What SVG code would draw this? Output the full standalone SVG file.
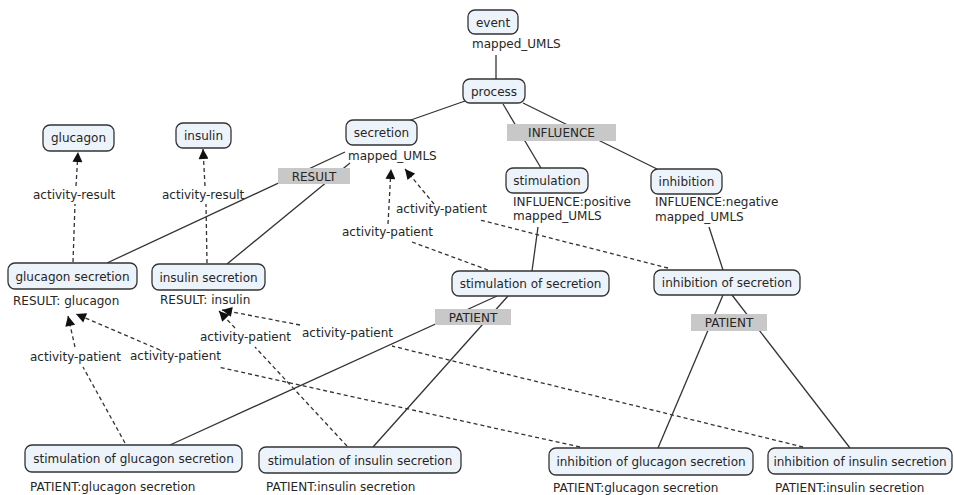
<svg xmlns="http://www.w3.org/2000/svg" width="954" height="495" viewBox="0 0 954 495">
  <style>
    text { font-family: "DejaVu Sans", Verdana, sans-serif; font-size: 12px; fill: #262626; }
    .node rect { fill: #edf3fa; stroke: #333; stroke-width: 1.3; }
    .node text { text-anchor: middle; }
    .phrase rect { fill: #c8c8c8; stroke: none; }
    .phrase text { text-anchor: middle; }
    .solid { stroke: #333; stroke-width: 1.3; fill: none; }
    .dash { stroke: #333; stroke-width: 1.3; fill: none; stroke-dasharray: 4 3; }
    .arrow { marker-end: url(#tri); }
  </style>
  <defs>
    <marker id="tri" viewBox="0 0 10 10" refX="10" refY="5" markerWidth="11" markerHeight="10" markerUnits="userSpaceOnUse" orient="auto">
      <path d="M0,0 L10,5 L0,10 z" fill="#111"/>
    </marker>
  </defs>
  <rect width="954" height="495" fill="#fff"/>

  <!-- connectors -->
  <g id="connectors">
    <!-- solid links -->
    <line class="solid" x1="496" y1="55" x2="496" y2="79"/>
    <line class="solid" x1="465" y1="101" x2="408" y2="121"/>
    <line class="solid" x1="503" y1="104" x2="541" y2="168"/>
    <line class="solid" x1="523" y1="103" x2="657" y2="169"/>
    <line class="solid" x1="345" y1="152" x2="107" y2="263"/>
    <line class="solid" x1="350" y1="163" x2="227" y2="264"/>
    <line class="solid" x1="538" y1="227" x2="532" y2="271"/>
    <line class="solid" x1="709" y1="227" x2="723" y2="270"/>
    <line class="solid" x1="497" y1="296" x2="170" y2="445"/>
    <line class="solid" x1="508" y1="296" x2="373" y2="447"/>
    <line class="solid" x1="723" y1="295" x2="658" y2="448"/>
    <line class="solid" x1="732" y1="295" x2="850" y2="448"/>

    <!-- activity-result -->
    <line class="dash" x1="73" y1="262" x2="75" y2="204"/>
    <line class="dash arrow" x1="76" y1="186" x2="78" y2="152"/>
    <line class="dash" x1="207" y1="263" x2="206" y2="204"/>
    <line class="dash arrow" x1="205" y1="186" x2="203" y2="149"/>

    <!-- activity-patient to secretion -->
    <line class="dash" x1="488" y1="270" x2="412" y2="242"/>
    <line class="dash arrow" x1="388" y1="224" x2="391" y2="169"/>
    <line class="dash" x1="668" y1="268" x2="480" y2="220"/>
    <line class="dash arrow" x1="434" y1="204" x2="405" y2="169"/>

    <!-- activity-patient to glucagon secretion -->
    <line class="dash" x1="125" y1="443" x2="83" y2="367"/>
    <line class="dash arrow" x1="75" y1="347" x2="68" y2="316"/>
    <line class="dash" x1="580" y1="447" x2="218" y2="367"/>
    <line class="dash arrow" x1="160" y1="350" x2="76" y2="314"/>

    <!-- activity-patient to insulin secretion -->
    <line class="dash" x1="347" y1="446" x2="255" y2="347"/>
    <line class="dash arrow" x1="235" y1="328" x2="219" y2="311"/>
    <line class="dash" x1="803" y1="447" x2="392" y2="346"/>
    <line class="dash arrow" x1="300" y1="325" x2="222" y2="310"/>
  </g>

  <!-- linking phrases -->
  <g id="ph-influence" class="phrase"><rect x="507" y="124" width="109" height="17"/><text x="561.5" y="137">INFLUENCE</text></g>
  <g id="ph-result" class="phrase"><rect x="278" y="168" width="72" height="16"/><text x="314" y="180.5">RESULT</text></g>
  <g id="ph-patient-stim" class="phrase"><rect x="435" y="309" width="76" height="16"/><text x="473" y="321.5">PATIENT</text></g>
  <g id="ph-patient-inh" class="phrase"><rect x="691" y="314" width="76" height="17"/><text x="729" y="327">PATIENT</text></g>

  <g id="ph-activity-result-1"><text x="33" y="199">activity-result</text></g>
  <g id="ph-activity-result-2"><text x="162" y="199">activity-result</text></g>
  <g id="ph-activity-patient-1"><text x="342" y="236">activity-patient</text></g>
  <g id="ph-activity-patient-2"><text x="396" y="213">activity-patient</text></g>
  <g id="ph-activity-patient-3"><text x="30" y="361">activity-patient</text></g>
  <g id="ph-activity-patient-4"><text x="130" y="360">activity-patient</text></g>
  <g id="ph-activity-patient-5"><text x="200" y="341">activity-patient</text></g>
  <g id="ph-activity-patient-6"><text x="302" y="337">activity-patient</text></g>

  <!-- concepts -->
  <g id="event" class="node"><rect x="468" y="10" width="50" height="24" rx="7"/><text x="493" y="26.5">event</text></g>
  <g id="event-attr"><text x="472" y="48">mapped_UMLS</text></g>

  <g id="process" class="node"><rect x="463" y="79" width="62" height="24" rx="7"/><text x="494" y="95.5">process</text></g>

  <g id="secretion" class="node"><rect x="346" y="120" width="71" height="25" rx="7"/><text x="381.5" y="137">secretion</text></g>
  <g id="secretion-attr"><text x="348" y="160">mapped_UMLS</text></g>

  <g id="stimulation" class="node"><rect x="506" y="168" width="82" height="25" rx="7"/><text x="547" y="185">stimulation</text></g>
  <g id="stimulation-attr"><text x="513" y="206">INFLUENCE:positive</text><text x="513" y="220">mapped_UMLS</text></g>

  <g id="inhibition" class="node"><rect x="651" y="169" width="71" height="25" rx="7"/><text x="686.5" y="186">inhibition</text></g>
  <g id="inhibition-attr"><text x="655" y="206">INFLUENCE:negative</text><text x="655" y="221">mapped_UMLS</text></g>

  <g id="glucagon" class="node"><rect x="43" y="125" width="71" height="26" rx="7"/><text x="78.5" y="142">glucagon</text></g>
  <g id="insulin" class="node"><rect x="176" y="123" width="55" height="25" rx="7"/><text x="203.5" y="140">insulin</text></g>

  <g id="glucagon-secretion" class="node"><rect x="8" y="263" width="129" height="26" rx="7"/><text x="72.5" y="280.5">glucagon secretion</text></g>
  <g id="glucagon-secretion-attr"><text x="13" y="305">RESULT: glucagon</text></g>

  <g id="insulin-secretion" class="node"><rect x="152" y="264" width="113" height="26" rx="7"/><text x="208.5" y="281.5">insulin secretion</text></g>
  <g id="insulin-secretion-attr"><text x="160" y="304">RESULT: insulin</text></g>

  <g id="stimulation-of-secretion" class="node"><rect x="452" y="271" width="157" height="25" rx="7"/><text x="530.5" y="288">stimulation of secretion</text></g>
  <g id="inhibition-of-secretion" class="node"><rect x="654" y="270" width="146" height="25" rx="7"/><text x="727" y="287">inhibition of secretion</text></g>

  <g id="stimulation-of-glucagon-secretion" class="node"><rect x="25" y="445" width="217" height="27" rx="7"/><text x="133.5" y="462.5">stimulation of glucagon secretion</text></g>
  <g id="stimulation-of-glucagon-secretion-attr"><text x="30" y="491">PATIENT:glucagon secretion</text></g>

  <g id="stimulation-of-insulin-secretion" class="node"><rect x="259" y="447" width="202" height="26" rx="7"/><text x="360" y="464.5">stimulation of insulin secretion</text></g>
  <g id="stimulation-of-insulin-secretion-attr"><text x="266" y="491">PATIENT:insulin secretion</text></g>

  <g id="inhibition-of-glucagon-secretion" class="node"><rect x="549" y="448" width="204" height="27" rx="7"/><text x="651" y="466">inhibition of glucagon secretion</text></g>
  <g id="inhibition-of-glucagon-secretion-attr"><text x="553" y="492">PATIENT:glucagon secretion</text></g>

  <g id="inhibition-of-insulin-secretion" class="node"><rect x="768" y="448" width="184" height="26" rx="7"/><text x="860" y="465.5">inhibition of insulin secretion</text></g>
  <g id="inhibition-of-insulin-secretion-attr"><text x="775" y="492">PATIENT:insulin secretion</text></g>
</svg>
